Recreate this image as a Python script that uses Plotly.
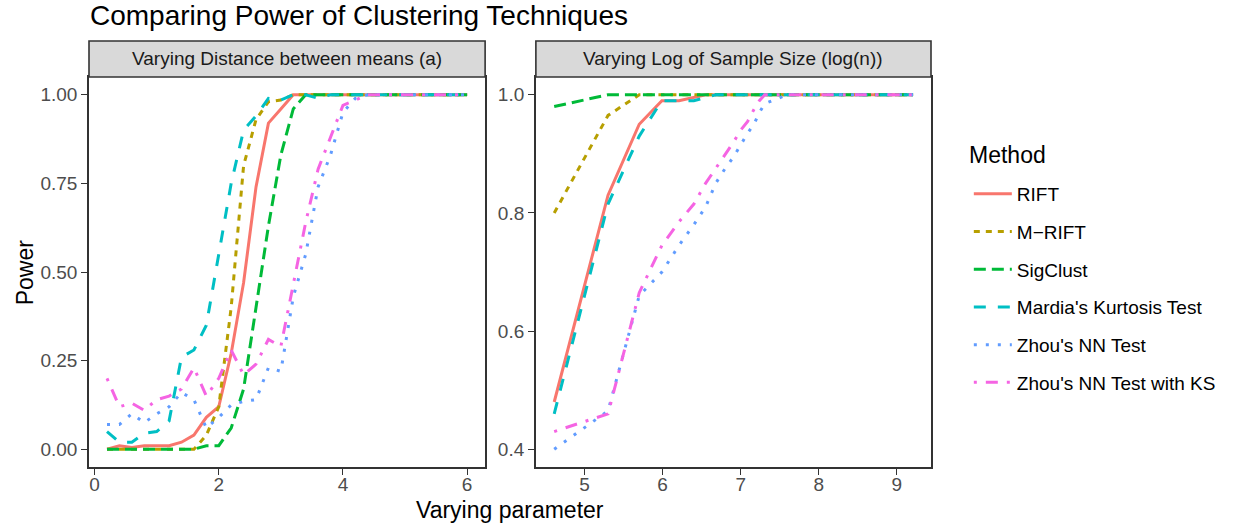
import plotly.graph_objects as go

# ---------------- data ----------------
methods = ["RIFT", "M\u2212RIFT", "SigClust", "Mardia's Kurtosis Test",
           "Zhou's NN Test", "Zhou's NN Test with KS"]
colors = ["#F8766D", "#B79F00", "#00BA38", "#00BFC4", "#619CFF", "#F564E3"]

# Panel 1: varying distance between means (a)
a_values = [0.2, 0.4, 0.6, 0.8, 1.0, 1.2, 1.4, 1.6, 1.8, 2.0,
            2.2, 2.4, 2.6, 2.8, 3.0, 3.2, 3.4, 3.6, 3.8, 4.0,
            4.2, 4.4, 4.6, 4.8, 5.0, 5.2, 5.4, 5.6, 5.8, 6.0]
rift_a = [0.0, 0.01, 0.005, 0.01, 0.01, 0.01, 0.02, 0.04, 0.09, 0.12,
          0.27, 0.47, 0.74, 0.92, 0.96, 1.0, 1.0, 1.0, 1.0, 1.0,
          1.0, 1.0, 1.0, 1.0, 1.0, 1.0, 1.0, 1.0, 1.0, 1.0]
mrift_a = [0.0, 0.0, 0.0, 0.0, 0.0, 0.0, 0.0, 0.0, 0.04, 0.12,
           0.40, 0.80, 0.93, 0.98, 0.985, 1.0, 1.0, 1.0, 1.0, 1.0,
           1.0, 1.0, 1.0, 1.0, 1.0, 1.0, 1.0, 1.0, 1.0, 1.0]
sigclust_a = [0.0, 0.0, 0.0, 0.0, 0.0, 0.0, 0.0, 0.0, 0.01, 0.01,
              0.06, 0.17, 0.40, 0.63, 0.83, 0.96, 1.0, 1.0, 1.0, 1.0,
              1.0, 1.0, 1.0, 1.0, 1.0, 1.0, 1.0, 1.0, 1.0, 1.0]
mardia_a = [0.05, 0.02, 0.02, 0.045, 0.05, 0.08, 0.26, 0.28, 0.35, 0.55,
            0.75, 0.90, 0.94, 0.99, 0.985, 1.0, 1.0, 0.99, 1.0, 1.0,
            1.0, 1.0, 1.0, 1.0, 1.0, 1.0, 1.0, 1.0, 1.0, 1.0]
zhou_a = [0.07, 0.07, 0.10, 0.075, 0.10, 0.12, 0.16, 0.14, 0.06, 0.09,
          0.125, 0.135, 0.14, 0.23, 0.22, 0.43, 0.55, 0.74, 0.83, 0.95,
          0.99, 1.0, 1.0, 1.0, 1.0, 1.0, 1.0, 1.0, 1.0, 1.0]
zhouks_a = [0.20, 0.12, 0.13, 0.11, 0.14, 0.15, 0.17, 0.23, 0.15, 0.20,
            0.28, 0.21, 0.24, 0.31, 0.29, 0.47, 0.64, 0.79, 0.88, 0.97,
            0.985, 1.0, 1.0, 1.0, 1.0, 1.0, 1.0, 1.0, 1.0, 1.0]

# Panel 2: varying log of sample size
logn_values = [4.61, 5.30, 5.70, 5.99, 6.21, 6.40, 6.55, 6.68, 6.80, 6.91,
               7.00, 7.09, 7.17, 7.24, 7.31, 7.60, 8.01, 8.52, 9.21]
rift_n = [0.48, 0.83, 0.95, 0.99, 0.99, 0.995, 1.0, 1.0, 1.0, 1.0,
          1.0, 1.0, 1.0, 1.0, 1.0, 1.0, 1.0, 1.0, 1.0]
mrift_n = [0.80, 0.965, 1.0, 1.0, 1.0, 1.0, 1.0, 1.0, 1.0, 1.0,
           1.0, 1.0, 1.0, 1.0, 1.0, 1.0, 1.0, 1.0, 1.0]
sigclust_n = [0.98, 1.0, 1.0, 1.0, 1.0, 1.0, 1.0, 1.0, 1.0, 1.0,
              1.0, 1.0, 1.0, 1.0, 1.0, 1.0, 1.0, 1.0, 1.0]
mardia_n = [0.46, 0.815, 0.93, 0.99, 0.99, 0.99, 0.995, 1.0, 1.0, 1.0,
            1.0, 1.0, 1.0, 1.0, 1.0, 1.0, 1.0, 1.0, 1.0]
zhou_n = [0.40, 0.465, 0.66, 0.70, 0.745, 0.78, 0.81, 0.85, 0.875, 0.895,
          0.915, 0.935, 0.95, 0.97, 0.985, 1.0, 1.0, 1.0, 1.0]
zhouks_n = [0.43, 0.46, 0.665, 0.745, 0.785, 0.815, 0.85, 0.875, 0.90, 0.92,
            0.94, 0.955, 0.975, 0.99, 1.0, 1.0, 1.0, 1.0, 1.0]

series_a = [rift_a, mrift_a, sigclust_a, mardia_a, zhou_a, zhouks_a]
series_n = [rift_n, mrift_n, sigclust_n, mardia_n, zhou_n, zhouks_n]

strip_labels = ["Varying Distance between means (a)", "Varying Log of Sample Size (log(n))"]
left_yticks = [0.0, 0.25, 0.5, 0.75, 1.0]
right_yticks = [0.4, 0.6, 0.8, 1.0]
left_xticks = [0, 2, 4, 6]
right_xticks = [5, 6, 7, 8, 9]

# ---------------- styling ----------------
FONT = "Liberation Sans, Arial, Helvetica, sans-serif"
dashes = ["solid", "6px,6px", "12px,6px", "12px,12px", "3px,9px", "3px,9px,12px,9px"]
LW = 3

fig = go.Figure()
for i, m in enumerate(methods):
    fig.add_trace(go.Scatter(
        x=a_values, y=series_a[i], mode="lines", name=m, legendgroup=m,
        line=dict(color=colors[i], width=LW, dash=dashes[i]),
        xaxis="x", yaxis="y", showlegend=True))
for i, m in enumerate(methods):
    fig.add_trace(go.Scatter(
        x=logn_values, y=series_n[i], mode="lines", name=m, legendgroup=m,
        line=dict(color=colors[i], width=LW, dash=dashes[i]),
        xaxis="x2", yaxis="y2", showlegend=False))

W, H = 1233, 529
ML, MR, MT, MB = 89, 298, 77, 62
PW = W - ML - MR          # 846
PH = H - MT - MB          # 390
d1 = [0, (487 - ML) / PW]
d2 = [(538 - ML) / PW, 1]

axis_common = dict(showgrid=False, zeroline=False, showline=True, mirror=True,
                   linecolor="#333333", linewidth=1.6, ticks="outside",
                   ticklen=6, tickwidth=1.4, tickcolor="#333333",
                   tickfont=dict(family=FONT, size=19, color="#4D4D4D"))

fig.update_layout(
    width=W, height=H,
    margin=dict(l=ML, r=MR, t=MT, b=MB),
    paper_bgcolor="white", plot_bgcolor="white",
    font=dict(family=FONT, color="black"),
    title=dict(text="Comparing Power of Clustering Techniques",
               font=dict(family=FONT, size=28, color="black"),
               x=90 / W, xanchor="left", xref="container",
               y=1 - 15 / H, yanchor="middle", yref="container"),
    xaxis=dict(domain=d1, range=[-0.09, 6.29], tickvals=left_xticks,
               ticktext=[str(v) for v in left_xticks], anchor="y",
               ticklabelstandoff=-7, **axis_common),
    yaxis=dict(domain=[0, 1], range=[-0.05, 1.05], tickvals=left_yticks,
               ticktext=["%.2f" % v for v in left_yticks], anchor="x", **axis_common),
    xaxis2=dict(domain=d2, range=[4.375, 9.44], tickvals=right_xticks,
                ticktext=[str(v) for v in right_xticks], anchor="y2",
                ticklabelstandoff=-7, **axis_common),
    yaxis2=dict(domain=[0, 1], range=[0.37, 1.03], tickvals=right_yticks,
                ticktext=["%.1f" % v for v in right_yticks], anchor="x2", **axis_common),
    legend=dict(font=dict(family=FONT, size=19, color="black"),
                x=(973 - ML) / PW, xanchor="left",
                y=(467 - 175) / PH, yanchor="top",
                itemwidth=38,
                tracegroupgap=10, bgcolor="rgba(0,0,0,0)", borderwidth=0),
    showlegend=True,
)

strip_h = 36 / PH
for dom, lab in zip([d1, d2], strip_labels):
    fig.add_shape(type="rect", xref="paper", yref="paper",
                  x0=dom[0], x1=dom[1], y0=1, y1=1 + strip_h,
                  fillcolor="#D9D9D9", line=dict(color="#333333", width=1.6), layer="above")
    fig.add_annotation(text=lab, xref="paper", yref="paper",
                       x=(dom[0] + dom[1]) / 2, y=1 + strip_h / 2,
                       xanchor="center", yanchor="middle", showarrow=False,
                       font=dict(family=FONT, size=19, color="#1A1A1A"))

# legend title
fig.add_annotation(text="Method", xref="paper", yref="paper",
                   x=(971 - ML) / PW, y=(467 - 155) / PH, showarrow=False,
                   xanchor="left", yanchor="middle",
                   font=dict(family=FONT, size=23, color="black"))

fig.add_annotation(text="Power", xref="paper", yref="paper",
                   x=(25 - ML) / PW, y=0.5, textangle=-90, showarrow=False,
                   xanchor="center", yanchor="middle",
                   font=dict(family=FONT, size=23, color="black"))
fig.add_annotation(text="Varying parameter", xref="paper", yref="paper",
                   x=0.5, y=(467 - 510) / PH, showarrow=False,
                   xanchor="center", yanchor="middle",
                   font=dict(family=FONT, size=23, color="black"))

fig.write_html("out.html")
